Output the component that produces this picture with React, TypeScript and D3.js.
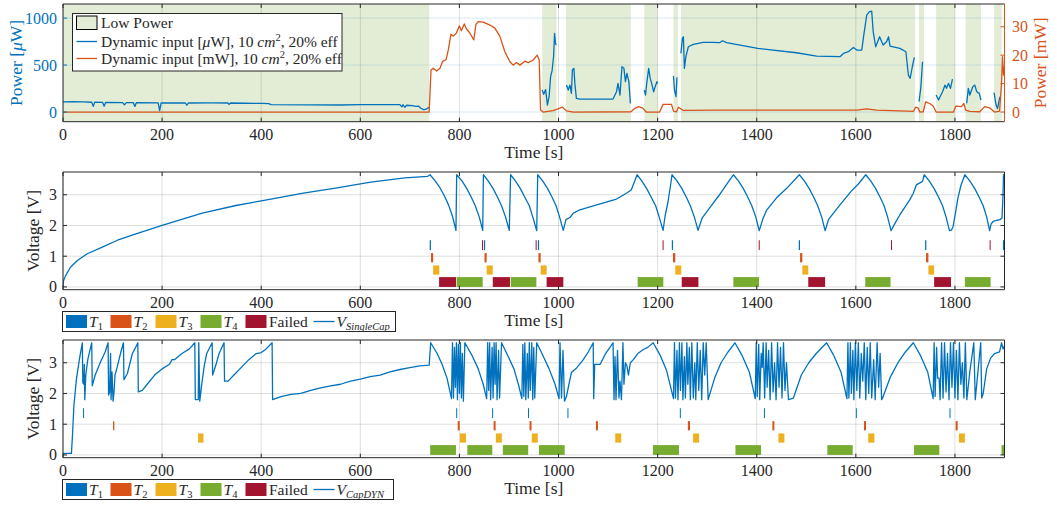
import React from "react";
import * as d3 from "d3";

// ---- data (times in s) ----
const lowPower: [number, number][] = [
  [0, 739], [967, 996], [1015, 1146], [1173, 1200], [1232, 1241], [1247, 1719.5],
  [1727.5, 1737.6], [1762, 1800], [1821.6, 1852.5], [1879, 1894.4],
];

// dynamic input in uW (NaN = not in low power)
const inputUW: [number, number][] = [
  [0, 108], [20, 110], [40, 108], [58, 104], [61, 60], [64, 104], [80, 102], [83, 62], [86, 102],
  [120, 100], [124, 78], [128, 100], [142, 99], [145, 60], [148, 99], [192, 98], [195, 15], [198, 97],
  [247, 96], [250, 72], [253, 96], [300, 97], [333, 96], [335, 80], [338, 96], [400, 92], [415, 90],
  [420, 78], [500, 76], [560, 75], [600, 78], [680, 78], [684, 55], [686, 78], [690, 50], [693, 72],
  [705, 68], [712, 60], [718, 62], [722, 40], [728, 25], [733, 30], [737, 45], [739, 50],
  [740, NaN],
  [967, 234], [970, 188], [974, 239], [977.6, 74], [981, 163], [984, 376], [987, 440], [990, 588],
  [992, 837], [994, 730], [995.5, 713],
  [996, NaN],
  [1016, 287], [1019.6, 234], [1023, 287], [1026, 199], [1028, 447], [1031, 465], [1033, 305],
  [1036, 145], [1043, 138], [1110, 138], [1117, 216], [1120, 305], [1124, 181], [1128, 482],
  [1132, 465], [1135, 323], [1138, 411], [1142, 323], [1145, 92],
  [1146, NaN],
  [1173, 234], [1175.6, 181], [1178, 305], [1182, 465], [1185, 358], [1188, 305], [1192, 216],
  [1195, 270], [1198.6, 323], [1200, 305],
  [1201, NaN],
  [1232, 383], [1234, 234], [1237, 163], [1239, 369],
  [1240, NaN],
  [1247, 624], [1250, 784], [1252, 801], [1254, 465], [1257, 589], [1262, 695], [1272, 720],
  [1292, 741], [1312, 741], [1325, 738], [1331, 759], [1339, 738], [1402, 677], [1480, 631],
  [1521, 596], [1568, 589], [1575, 624], [1585, 642], [1595, 688], [1602, 660], [1612, 660],
  [1616, 819], [1622, 1032], [1627, 1067], [1632, 1074], [1635, 855], [1640, 695], [1648, 801],
  [1655, 713], [1662, 748], [1666, 801], [1669, 702], [1689, 677], [1701, 642], [1706, 394],
  [1709.6, 358], [1714, 482], [1718, 582],
  [1719, NaN],
  [1727.5, 110], [1731, 252], [1734.6, 535],
  [1736, NaN],
  [1762, 181], [1767, 128], [1770, 163], [1775, 216], [1780, 287], [1783, 252], [1787, 305],
  [1791, 252], [1795, 351],
  [1796, NaN],
  [1823.7, 92], [1827, 252], [1830, 181], [1836, 270], [1840, 287], [1844, 216], [1849, 199],
  [1852.5, 128],
  [1853, NaN],
  [1879, 206], [1883, 74], [1886, 38], [1890, 145], [1891, 163],
];

// dynamic input in mW
const inputMW: [number, number][] = [
  [0, 0], [739, 0], [742.7, 14.8], [747.4, 15.4], [754, 14.4], [760.8, 15.4], [766, 17.8],
  [773, 18.4], [777.6, 21.9], [783, 27.4], [787.6, 26.7], [794, 27.8], [799.6, 30.3], [804, 28.6],
  [809.8, 31.0], [814.4, 29.2], [821, 27.8], [829, 25.4], [833.3, 30.8], [838, 31.8], [848, 31.6],
  [861.5, 30.6], [871.5, 29.5], [881.6, 26.7], [891.7, 21.2], [901.8, 17.7], [908.5, 16.5],
  [915, 17.4], [922, 16.5], [932, 17.9], [938.8, 17.4], [948.9, 18.3], [957, 20.0], [961, 18.3],
  [963.7, 0.7], [969, 0], [989, 0.5], [1000, 1.2], [1008, 1.7], [1016, 0.4], [1030, 0],
  [1146, 0.1], [1155, 1.4], [1162, 1.9], [1170, 1.4], [1177, 0], [1204, 0], [1211, 2.7],
  [1228, 2.7], [1232, 0.3], [1238, 0.1], [1242, 1.7], [1251, 0.6], [1325, 0.7], [1602, 0.7],
  [1622, 1.1], [1642, 0.7], [1703, 0.3], [1716, 0.2], [1721, 1.7], [1726, 1.4], [1729, 0],
  [1736, 0.1], [1741, 3.6], [1749, 3.0], [1756, 2.1], [1762, 0], [1797, 0], [1802, 2.1],
  [1813, 1.9], [1818, 3.0], [1821.6, 0.7], [1830, 0.2], [1850, 0.1], [1860, 1.9], [1870, 1.5],
  [1880, 0], [1890, 0.3], [1894, 10], [1896, 19.5], [1898, 13], [1900, 16],
];

// single capacitor voltage
const vSingle: [number, number][] = [
  [0, 0], [1, 0.2], [5, 0.36], [15, 0.64], [29, 0.86], [49, 1.08], [76, 1.27], [110, 1.52],
  [144, 1.71], [200, 2.0], [281, 2.4], [349, 2.65], [403, 2.81], [485, 3.05], [553, 3.22],
  [621, 3.41], [690, 3.55], [736, 3.6], [740.7, 3.65],
  [751, 3.45], [761, 3.22], [770, 2.95], [778, 2.67], [786, 2.3], [793, 1.84],
  [794.5, 3.65], [805, 3.45], [815, 3.2], [824, 2.92], [832, 2.64], [840, 2.28], [847, 1.84],
  [848.4, 3.65], [858, 3.45], [868, 3.2], [877, 2.92], [885, 2.64], [893, 2.28], [900.6, 1.84],
  [903.3, 3.65], [913, 3.45], [923, 3.2], [932, 2.92], [941, 2.64], [948, 2.28], [956, 1.83],
  [958, 3.65], [968, 3.45], [978, 3.2], [987, 2.92], [995, 2.64], [1002, 2.28], [1009.6, 1.84],
  [1015, 2.19], [1023, 2.26], [1030, 2.4], [1043, 2.51], [1084, 2.7], [1117, 2.86], [1137, 3.05],
  [1147, 3.16], [1158.5, 3.65],
  [1168, 3.45], [1178, 3.2], [1187, 2.92], [1196, 2.64], [1203, 2.28], [1211, 1.84],
  [1215, 2.3], [1221, 2.78], [1226, 3.3], [1229, 3.65],
  [1239, 3.45], [1249, 3.2], [1258, 2.92], [1266, 2.64], [1274, 2.28], [1281.6, 1.84],
  [1290, 2.25], [1305, 2.57], [1325, 3.0], [1340, 3.35], [1352.8, 3.65],
  [1363, 3.45], [1373, 3.2], [1382, 2.92], [1390, 2.64], [1398, 2.28], [1405, 1.83],
  [1412, 2.2], [1420, 2.5], [1440, 2.9], [1460, 3.2], [1486, 3.65],
  [1496, 3.45], [1506, 3.2], [1515, 2.92], [1523, 2.64], [1531, 2.28], [1538, 1.83],
  [1545, 2.2], [1568, 2.67], [1590, 3.1], [1605, 3.35], [1620, 3.65],
  [1630, 3.45], [1640, 3.2], [1649, 2.92], [1657, 2.64], [1664, 2.28], [1671, 1.83],
  [1680, 2.1], [1689, 2.35], [1700, 2.62], [1709, 2.84], [1716, 3.05], [1722, 3.32], [1732, 3.41],
  [1735, 3.45], [1738, 3.65],
  [1748, 3.45], [1758, 3.2], [1767, 2.92], [1775, 2.64], [1782, 2.28], [1789, 1.83],
  [1793, 1.85], [1796, 1.95], [1801, 2.4], [1806, 2.89], [1812, 3.3], [1820, 3.65],
  [1830, 3.45], [1840, 3.2], [1849, 2.92], [1857, 2.64], [1864, 2.28], [1870, 1.83],
  [1873, 2.05], [1877, 2.13], [1885, 2.17], [1891, 2.19], [1895, 2.24], [1897, 3.0], [1898, 3.65],
  [1900, 3.54],
];

// dynamic capacitor voltage
const vDyn: [number, number][] = [
  [0, 0.05], [17, 0.05], [19, 0.6], [22, 1.6], [27, 2.45], [33, 3.1], [39, 3.65], [40, 2.35],
  [42, 2.3], [43, 2.95], [44, 1.8], [46, 2.6], [50, 3.1], [55, 3.45], [58, 3.65], [59, 2.25],
  [65, 2.6], [75, 3.0], [85, 3.35], [91, 3.65], [92, 1.95], [94, 2.05], [96, 3.3], [97, 1.8],
  [99, 2.7], [101, 1.75], [103, 2.05], [105, 2.6], [110, 2.9], [116, 3.3], [122, 3.65],
  [123, 2.45], [130, 2.65], [140, 3.3], [145, 3.45], [151, 3.65], [152, 2.05], [160, 2.1],
  [170, 2.3], [185, 2.6], [200, 2.8], [215, 2.95], [220, 3.1], [225, 3.1], [240, 3.3],
  [255, 3.45], [266, 3.65], [267, 1.8], [273, 1.8], [274, 3.65], [276, 1.75], [280, 2.3],
  [285, 2.9], [290, 3.3], [301, 3.65], [302, 2.6], [308, 2.9], [315, 3.3], [325, 3.65],
  [326, 2.4], [333, 2.4], [336, 2.45], [345, 2.6], [360, 2.85], [375, 3.1], [390, 3.3],
  [400, 3.33], [410, 3.45], [422, 3.65], [423, 1.8], [440, 1.9], [460, 1.97], [480, 2.0],
  [500, 2.1], [520, 2.18], [540, 2.25], [560, 2.3], [580, 2.4], [600, 2.47], [620, 2.55],
  [640, 2.6], [660, 2.7], [680, 2.78], [700, 2.84], [720, 2.9], [739, 2.92],
  [742, 3.65], [755, 3.3], [765, 2.95], [775, 2.5], [784, 1.83],
  [786, 3.65], [788, 1.85], [790, 3.5], [792, 2.2], [794, 3.65], [796, 1.8], [798, 3.6],
  [800, 2.0], [802, 3.65], [804, 1.85], [806, 3.3], [808, 1.75], [811, 3.65],
  [825, 3.25], [838, 2.8], [848, 2.3], [855, 1.83],
  [857, 3.65], [859, 2.1], [861, 3.65], [863, 1.8], [866, 3.5], [868, 1.85], [870, 3.65],
  [872, 2.3], [874, 3.65], [876, 1.8], [879, 3.4], [881, 1.85], [885, 3.65],
  [897, 3.25], [910, 2.8], [919, 2.3], [926, 1.83],
  [928, 3.6], [930, 1.9], [932, 3.65], [934, 1.8], [937, 3.3], [939, 1.85], [941, 3.65],
  [943, 2.1], [946, 3.65], [948, 1.8], [950, 3.5], [952, 1.85], [956, 3.65],
  [968, 3.25], [981, 2.8], [993, 2.3], [1001, 1.83],
  [1003, 3.65], [1006, 1.85], [1009, 3.4], [1012, 1.75], [1016, 1.9], [1021, 2.3], [1026, 2.68],
  [1037, 2.84], [1050, 3.1], [1060, 3.35], [1070, 3.65], [1071, 1.83], [1073, 2.95], [1084, 2.95],
  [1095, 3.3], [1110, 3.65], [1112, 1.8], [1114, 3.2], [1116, 1.8], [1119, 3.4], [1122, 1.85],
  [1124, 2.4], [1127, 1.8], [1130, 3.65], [1132, 2.3], [1135, 3.0], [1138, 2.9], [1141, 2.6],
  [1145, 3.0], [1151, 3.1], [1160, 3.3], [1171, 3.43], [1180, 3.5], [1191, 3.65],
  [1205, 3.25], [1218, 2.75], [1232, 1.83],
  [1234, 3.65], [1236, 1.85], [1239, 3.4], [1241, 1.8], [1244, 3.65], [1246, 2.1], [1249, 3.65],
  [1251, 1.8], [1254, 3.2], [1256, 1.85], [1259, 3.65], [1261, 2.3], [1264, 3.5], [1266, 1.8],
  [1269, 3.65], [1272, 1.85], [1275, 3.0], [1277, 1.8], [1280, 3.65], [1283, 2.1], [1286, 3.4],
  [1289, 1.8], [1292, 3.65], [1295, 2.6], [1298, 3.65], [1302, 1.8],
  [1315, 2.5], [1328, 3.0], [1342, 3.35], [1356, 3.65],
  [1370, 3.25], [1385, 2.7], [1397, 1.83],
  [1399, 3.65], [1401, 1.9], [1404, 3.6], [1406, 1.8], [1409, 3.3], [1411, 2.85], [1413, 3.65],
  [1416, 1.85], [1419, 3.65], [1421, 2.2], [1424, 3.4], [1427, 1.8], [1430, 3.65], [1433, 2.05],
  [1436, 3.0], [1439, 1.8], [1442, 3.65], [1445, 2.2], [1448, 3.5], [1451, 1.85], [1454, 3.65],
  [1457, 2.1], [1460, 3.0], [1464, 1.8], [1474, 1.85],
  [1490, 2.6], [1505, 3.0], [1520, 3.3], [1541, 3.65],
  [1555, 3.25], [1570, 2.7], [1582, 1.83],
  [1584, 3.65], [1586, 1.85], [1589, 3.65], [1591, 2.0], [1594, 3.4], [1596, 1.8], [1599, 3.65],
  [1602, 2.1], [1605, 3.65], [1608, 1.85], [1611, 3.3], [1614, 2.4], [1617, 3.65], [1620, 1.8],
  [1623, 3.5], [1626, 2.0], [1629, 3.65], [1632, 1.85], [1636, 3.1], [1639, 1.8], [1643, 3.65],
  [1646, 2.2], [1649, 3.3], [1652, 1.8], [1654, 1.85],
  [1670, 2.55], [1685, 3.0], [1700, 3.35], [1716, 3.65],
  [1730, 3.25], [1745, 2.7], [1756, 1.83],
  [1758, 3.65], [1760, 1.9], [1763, 3.5], [1765, 2.5], [1768, 2.5], [1770, 1.8], [1773, 3.65],
  [1776, 1.85], [1779, 3.65], [1782, 2.05], [1785, 3.3], [1788, 1.8], [1791, 3.65], [1794, 2.2],
  [1797, 3.65], [1800, 1.85], [1803, 3.4], [1806, 1.8], [1809, 3.65], [1812, 2.3], [1815, 3.0],
  [1818, 1.85], [1821, 3.65], [1824, 1.8], [1830, 2.7], [1838, 3.65], [1841, 1.8], [1852, 3.65],
  [1854, 1.85], [1857, 2.0], [1864, 2.8], [1872, 3.15], [1880, 3.3], [1890, 3.35], [1894, 3.65],
  [1897, 3.45], [1900, 3.55],
];

// task executions [start, end] (s)
const singleT1: [number, number][] = [[740, 742.5], [849.4, 851.9], [958.3, 960.8], [1228.6, 1231.1], [1484.8, 1487.3], [1739.8, 1742.3], [1896.8, 1899.3]];
const singleT2: [number, number][] = [[742.7, 747], [850.6, 855], [959.5, 964], [1231, 1235.6], [1487.4, 1492], [1741.7, 1746.4], [1899.5, 1902]];
const singleT3: [number, number][] = [[747, 759.4], [855, 867.3], [964, 976], [1235.6, 1247.7], [1492, 1504], [1746.4, 1758]];
const singleT4: [number, number][] = [[794.5, 847], [903.5, 955.3], [1159.7, 1211.5], [1352.8, 1404.6], [1619, 1670], [1820, 1872]];
const singleFailed: [number, number][] = [[759, 793.2], [867.3, 902], [976, 1009.7], [1248.6, 1282.3], [1504, 1538], [1758, 1792]];
const singleFailedT1: [number, number][] = [[845.5, 847.5], [953.8, 955.8], [1210, 1212], [1404, 1406], [1671, 1673], [1870, 1872]];

const dynT1: [number, number][] = [[40.5, 42.5], [793.5, 795.5], [866, 868], [938.4, 940.4], [1018, 1020], [1244.8, 1246.8], [1414.5, 1416.5], [1600, 1602], [1789, 1791]];
const dynT2: [number, number][] = [[101, 103.6], [796.5, 800.5], [869, 873], [941.5, 945.5], [1075.5, 1079.5], [1261, 1265.3], [1431.6, 1435.6], [1616.5, 1620.5], [1801.5, 1805.5]];
const dynT3: [number, number][] = [[272.6, 283.5], [801, 813.3], [873.5, 885.6], [946, 958.2], [1114.5, 1126.6], [1271.5, 1283.7], [1443.7, 1455.8], [1625, 1637.5], [1808, 1820]];
const dynT4: [number, number][] = [[741, 793], [816, 866.3], [887.6, 938.8], [960.6, 1012.4], [1190.5, 1243], [1357, 1408.7], [1542.5, 1593.7], [1717.4, 1768.5], [1894, 1902]];
const dynFailed: [number, number][] = [];

const xTicks = [0, 200, 400, 600, 800, 1000, 1200, 1400, 1600, 1800];
const uwTicks = [0, 500, 1000];
const mwTicks = [0, 10, 20, 30];
const vTicks = [0, 1, 2, 3];

// row bands (V) for task markers
const rowT1: [number, number] = [1.2, 1.52];
const rowT2: [number, number] = [0.8, 1.1];
const rowT3: [number, number] = [0.4, 0.7];
const rowT4: [number, number] = [0, 0.32];

const C = {
  blue: "#0072BD",
  orange: "#D95319",
  yellow: "#EDB120",
  green: "#77AC30",
  red: "#A2142F",
  shade: "#E3EDD6",
  axis: "#262626",
  grid: "rgba(38,38,38,0.15)",
  gridBlue: "rgba(0,114,189,0.15)",
};

const FONT = "Liberation Serif, DejaVu Serif, serif";
const X0 = 63;
const X1 = 1004.5;
const PH = 117.7;
const TOPS = [4, 172, 340];

const x = d3.scaleLinear().domain([0, 1900]).range([X0, X1]);

function Sub({ main, sub, italicSub = false }: { main: string; sub: string; italicSub?: boolean }) {
  return (
    <>
      <tspan fontStyle="italic">{main}</tspan>
      <tspan fontSize={10.5} dy={3.5} fontStyle={italicSub ? "italic" : "normal"}>{sub}</tspan>
      <tspan dy={-3.5}></tspan>
    </>
  );
}

function Frame({ top, left, right }: { top: number; left: string; right: string }) {
  return (
    <g fill="none" strokeWidth={1}>
      <line x1={X0} x2={X1} y1={top} y2={top} stroke={C.axis} />
      <line x1={X0} x2={X1} y1={top + PH} y2={top + PH} stroke={C.axis} />
      <line x1={X0} x2={X0} y1={top} y2={top + PH} stroke={left} />
      <line x1={X1} x2={X1} y1={top} y2={top + PH} stroke={right} />
    </g>
  );
}

function XAxis({ top }: { top: number }) {
  const b = top + PH;
  return (
    <g>
      {xTicks.map((t) => (
        <g key={t}>
          <line x1={x(t)} x2={x(t)} y1={b} y2={b - 4} stroke={C.axis} />
          <line x1={x(t)} x2={x(t)} y1={top} y2={top + 4} stroke={C.axis} />
          <text x={x(t)} y={b + 18} textAnchor="middle" fontSize={16} fill={C.axis}>{t}</text>
        </g>
      ))}
      <text x={(X0 + X1) / 2} y={b + 36} textAnchor="middle" fontSize={17.5} fill={C.axis}>Time [s]</text>
    </g>
  );
}

function TaskRects({ data, row, color, y }: { data: [number, number][]; row: [number, number]; color: string; y: d3.ScaleLinear<number, number> }) {
  return (
    <g fill={color}>
      {data.map((d, i) => (
        <rect key={i} x={x(d[0])} width={Math.max(1, x(d[1]) - x(d[0]))} y={y(row[1])} height={y(row[0]) - y(row[1])} />
      ))}
    </g>
  );
}

function VoltagePanel({ top, series, t1, t2, t3, t4, failed, failedT1, clipId }: {
  top: number; series: [number, number][]; t1: [number, number][]; t2: [number, number][];
  t3: [number, number][]; t4: [number, number][]; failed: [number, number][]; failedT1: [number, number][]; clipId: string;
}) {
  const y = d3.scaleLinear().domain([-0.09, 3.74]).range([top + PH, top]);
  const line = d3.line<[number, number]>().x((d) => x(d[0])).y((d) => y(d[1]));
  return (
    <g>
      <defs>
        <clipPath id={clipId}><rect x={X0} y={top} width={X1 - X0} height={PH} /></clipPath>
      </defs>
      <g stroke={C.grid}>
        {xTicks.map((t) => <line key={t} x1={x(t)} x2={x(t)} y1={top} y2={top + PH} />)}
        {vTicks.map((v) => <line key={v} x1={X0} x2={X1} y1={y(v)} y2={y(v)} />)}
      </g>
      <g clipPath={`url(#${clipId})`}>
        <path d={line(series) ?? ""} fill="none" stroke={C.blue} strokeWidth={1.3} strokeLinejoin="round" />
        <TaskRects data={t1} row={rowT1} color={C.blue} y={y} />
        <TaskRects data={failedT1} row={rowT1} color={C.red} y={y} />
        <TaskRects data={t2} row={rowT2} color={C.orange} y={y} />
        <TaskRects data={t3} row={rowT3} color={C.yellow} y={y} />
        <TaskRects data={t4} row={rowT4} color={C.green} y={y} />
        <TaskRects data={failed} row={rowT4} color={C.red} y={y} />
      </g>
      <Frame top={top} left={C.axis} right={C.axis} />
      {vTicks.map((v) => (
        <g key={v}>
          <line x1={X0} x2={X0 + 4} y1={y(v)} y2={y(v)} stroke={C.axis} />
          <line x1={X1} x2={X1 - 4} y1={y(v)} y2={y(v)} stroke={C.axis} />
          <text x={57} y={y(v) + 5.5} textAnchor="end" fontSize={16} fill={C.axis}>{v}</text>
        </g>
      ))}
      <text transform={`translate(39,${top + PH / 2}) rotate(-90)`} textAnchor="middle" fontSize={17.5} fill={C.axis}>Voltage [V]</text>
      <XAxis top={top} />
    </g>
  );
}

function TaskLegend({ top, width, label }: { top: number; width: number; label: string }) {
  const sw = [
    { x: 66, c: C.blue, t: "1" },
    { x: 110.5, c: C.orange, t: "2" },
    { x: 155.5, c: C.yellow, t: "3" },
    { x: 200.5, c: C.green, t: "4" },
  ];
  const cy = top + 10;
  return (
    <g fontSize={15.5} fill={C.axis}>
      <rect x={62.5} y={top} width={width} height={20} fill="#fff" stroke={C.axis} strokeWidth={1} />
      {sw.map((s) => (
        <g key={s.t}>
          <rect x={s.x} y={cy - 6.5} width={21} height={13} fill={s.c} />
          <text x={s.x + 23} y={cy + 5}><Sub main="T" sub={s.t} /></text>
        </g>
      ))}
      <rect x={245.5} y={cy - 6.5} width={21} height={13} fill={C.red} />
      <text x={269} y={cy + 5}>Failed</text>
      <line x1={313.5} x2={334.5} y1={cy} y2={cy} stroke={C.blue} strokeWidth={1.3} />
      <text x={336.5} y={cy + 5}><Sub main="V" sub={label} italicSub /></text>
    </g>
  );
}

export default function App() {
  const top = TOPS[0];
  const yL = d3.scaleLinear().domain([-103, 1150]).range([top + PH, top]);
  const yR = d3.scaleLinear().domain([-3.4, 38]).range([top + PH, top]);
  const lineL = d3.line<[number, number]>().defined((d) => !isNaN(d[1])).x((d) => x(d[0])).y((d) => yL(d[1]));
  const lineR = d3.line<[number, number]>().x((d) => x(d[0])).y((d) => yR(d[1]));

  return (
    <svg width={1057} height={508} style={{ position: "absolute", left: 0, top: 0, fontFamily: FONT }}>
      <rect width={1057} height={508} fill="#fff" />
      <defs>
        <clipPath id="clipTop"><rect x={X0} y={top} width={X1 - X0} height={PH} /></clipPath>
      </defs>

      {/* top panel: input power */}
      <g clipPath="url(#clipTop)">
        {lowPower.map((d, i) => (
          <rect key={i} x={x(d[0])} width={x(d[1]) - x(d[0])} y={top} height={PH} fill={C.shade} />
        ))}
        <g>
          {xTicks.map((t) => <line key={t} x1={x(t)} x2={x(t)} y1={top} y2={top + PH} stroke={C.grid} />)}
          {uwTicks.map((v) => <line key={v} x1={X0} x2={X1} y1={yL(v)} y2={yL(v)} stroke={C.gridBlue} />)}
        </g>
        <path d={lineL(inputUW) ?? ""} fill="none" stroke={C.blue} strokeWidth={1.3} strokeLinejoin="round" />
        <path d={lineR(inputMW) ?? ""} fill="none" stroke={C.orange} strokeWidth={1.3} strokeLinejoin="round" />
      </g>
      <Frame top={top} left={C.axis} right={C.orange} />
      {uwTicks.map((v) => (
        <g key={v}>
          <line x1={X0} x2={X0 + 4} y1={yL(v)} y2={yL(v)} stroke={C.blue} />
          <text x={57} y={yL(v) + 5.5} textAnchor="end" fontSize={16} fill={C.blue}>{v}</text>
        </g>
      ))}
      {mwTicks.map((v) => (
        <g key={v}>
          <line x1={X1} x2={X1 - 4} y1={yR(v)} y2={yR(v)} stroke={C.orange} />
          <text x={1012} y={yR(v) + 5.5} textAnchor="start" fontSize={16} fill={C.orange}>{v}</text>
        </g>
      ))}
      <text transform={`translate(22,${top + PH / 2}) rotate(-90)`} textAnchor="middle" fontSize={17.5} fill={C.blue}>
        Power [<tspan fontStyle="italic">μ</tspan>W]
      </text>
      <text transform={`translate(1046,${top + PH / 2}) rotate(-90)`} textAnchor="middle" fontSize={17.5} fill={C.orange}>
        Power [mW]
      </text>
      <XAxis top={top} />

      {/* top legend */}
      <g fontSize={15.5} fill={C.axis}>
        <rect x={72.5} y={13.5} width={269.5} height={57.5} fill="#fff" stroke={C.axis} strokeWidth={1} />
        <rect x={76.5} y={16} width={20.5} height={13.5} fill={C.shade} stroke="#000" strokeWidth={1} />
        <text x={101} y={28}>Low Power</text>
        <line x1={76.5} x2={97} y1={41.5} y2={41.5} stroke={C.blue} strokeWidth={1.3} />
        <text x={101} y={46.5}>
          Dynamic input [<tspan fontStyle="italic">μ</tspan>W], 10 <tspan fontStyle="italic">cm</tspan>
          <tspan fontSize={10.5} dy={-6}>2</tspan><tspan dy={6}>, 20% eff</tspan>
        </text>
        <line x1={76.5} x2={97} y1={58.5} y2={58.5} stroke={C.orange} strokeWidth={1.3} />
        <text x={101} y={63.5}>
          Dynamic input [mW], 10 <tspan fontStyle="italic">cm</tspan>
          <tspan fontSize={10.5} dy={-6}>2</tspan><tspan dy={6}>, 20% eff</tspan>
        </text>
      </g>

      {/* middle: single capacitor */}
      <VoltagePanel top={TOPS[1]} series={vSingle} t1={singleT1} t2={singleT2} t3={singleT3} t4={singleT4}
        failed={singleFailed} failedT1={singleFailedT1} clipId="clipMid" />
      <TaskLegend top={311.5} width={333} label="SingleCap" />

      {/* bottom: dynamic capacitor */}
      <VoltagePanel top={TOPS[2]} series={vDyn} t1={dynT1} t2={dynT2} t3={dynT3} t4={dynT4}
        failed={dynFailed} failedT1={[]} clipId="clipBot" />
      <TaskLegend top={479.5} width={331} label="CapDYN" />
    </svg>
  );
}
